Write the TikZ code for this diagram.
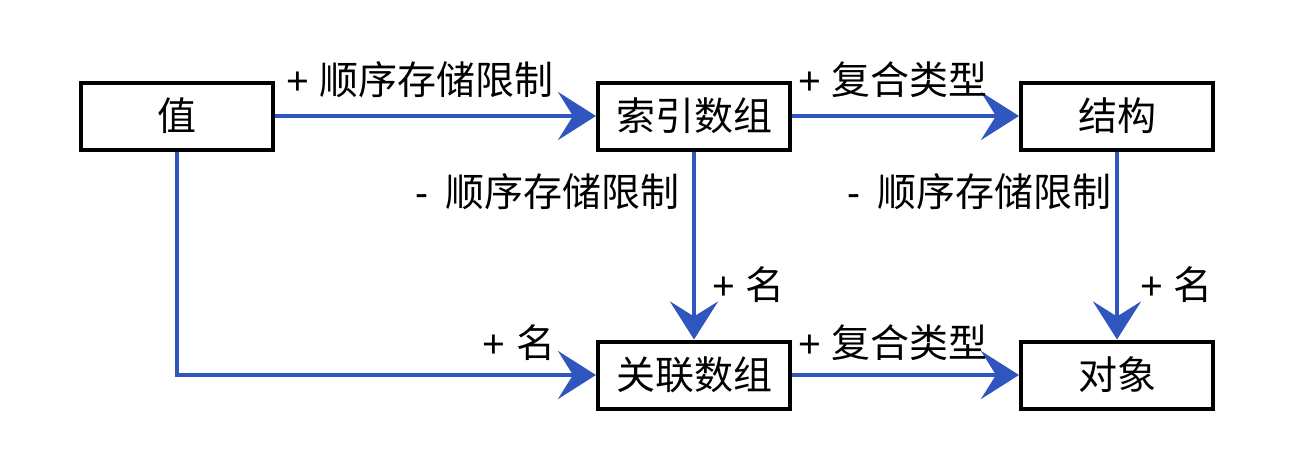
\documentclass[tikz,border=0pt]{standalone}
\usepackage{fontspec}
\setmainfont{Liberation Sans}
\newfontfamily\cjk{Noto Sans CJK SC}
\usetikzlibrary{arrows.meta}
\definecolor{arrblue}{HTML}{2F55BE}
\begin{document}
\begin{tikzpicture}[x=1pt,y=-1pt,
  box/.style={draw=black,line width=4pt,minimum width=192pt,minimum height=67pt,inner sep=0pt,font=\fontsize{39}{42}\selectfont\cjk},
  conn/.style={draw=arrblue,line width=4.5pt,-{Stealth[length=38pt,width=48pt,inset=15pt]}},
  lbl/.style={font=\fontsize{39}{42}\selectfont,inner sep=0pt}]
\useasboundingbox (0,0) rectangle (1304,474);
\node[box] (v) at (177,116) {值};
\node[box] (i) at (694,116) {索引数组};
\node[box] (s) at (1117,116) {结构};
\node[box] (a) at (694,375) {关联数组};
\node[box] (o) at (1117,375) {对象};
\coordinate (c) at (177,375);
\draw[conn] (v) -- (i);
\draw[conn] (i) -- (s);
\draw[conn] (i) -- (a);
\draw[conn] (s) -- (o);
\draw[conn] (a) -- (o);
\draw[conn] (v.south) -- (c) -- (a.west);
\node[lbl] (l1) at (420,80) {+ {\cjk 顺序存储限制}};
\node[lbl] (l2) at (893,80) {+ {\cjk 复合类型}};
\node[lbl,anchor=east] (l3) at (680,192) {-\, {\cjk 顺序存储限制}};
\node[lbl,anchor=east] (l4) at (1112,192) {-\, {\cjk 顺序存储限制}};
\node[lbl,anchor=west] (l5) at (712,285) {+ {\cjk 名}};
\node[lbl,anchor=west] (l6) at (1140,285) {+ {\cjk 名}};
\node[lbl] (l7) at (519,343) {+ {\cjk 名}};
\node[lbl] (l8) at (893,343) {+ {\cjk 复合类型}};
\end{tikzpicture}
\end{document}
